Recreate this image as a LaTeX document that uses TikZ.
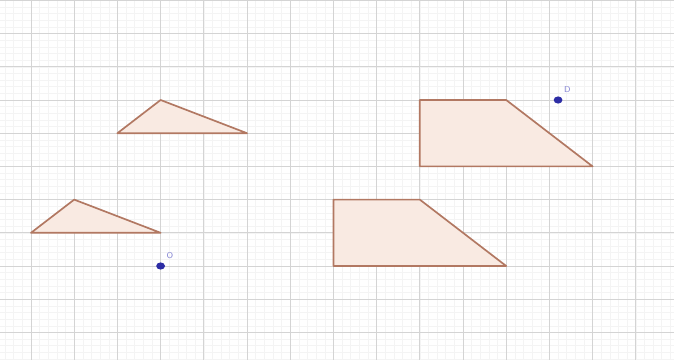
\documentclass[tikz,border=0pt]{standalone}
\usepackage{tikz}
\usetikzlibrary{positioning,shapes.geometric}
\definecolor{gridmajor}{RGB}{212,212,212}
\definecolor{gridminor}{RGB}{244,244,244}
\definecolor{polyedge}{RGB}{178,120,98}
\definecolor{polyfill}{RGB}{249,234,226}
\definecolor{ptblue}{RGB}{45,45,165}
\definecolor{lblblue}{RGB}{130,130,210}

\begin{document}
\begin{tikzpicture}[
    x=1.08cm, y=0.83cm,
    minorline/.style={draw=gridminor, line width=0.35pt},
    majorline/.style={draw=gridmajor, line width=0.6pt},
    poly/.style={draw=polyedge, fill=polyfill, line width=1.2pt, line join=round},
    pt/.style={ellipse, fill=ptblue, inner sep=0pt, minimum width=0.22cm, minimum height=0.18cm},
    ptlabel/.style={text=lblblue, font=\fontsize{6}{6}\selectfont\sffamily, inner sep=0pt}
]
    \useasboundingbox (-0.7176,-0.831) rectangle (14.884,10.012);
    \fill[white] (-0.7176,-0.831) rectangle (14.884,10.012);

    % grid
    \foreach \i in {-3,...,74}
        \draw[minorline] (\i/5,-0.831) -- (\i/5,10.012);
    \foreach \j in {-4,...,50}
        \draw[minorline] (-0.7176,\j/5) -- (14.884,\j/5);
    \foreach \i in {0,...,14}
        \draw[majorline] (\i,-0.831) -- (\i,10.012);
    \foreach \j in {0,...,10}
        \draw[majorline] (-0.7176,\j) -- (14.884,\j);

    % triangles
    \draw[poly] (2,6) -- (3,7) -- (5,6) -- cycle;
    \draw[poly] (0,3) -- (1,4) -- (3,3) -- cycle;

    % trapezoids
    \draw[poly] (9,5) -- (9,7) -- (11,7) -- (13,5) -- cycle;
    \draw[poly] (7,2) -- (7,4) -- (9,4) -- (11,2) -- cycle;

    % points
    \node[pt] (ptO) at (3,2) {};
    \node[pt] (ptD) at (12.2,7) {};
    \node[ptlabel, above right=0.1cm and 0.06cm of ptO] (lblO) {O};
    \node[ptlabel, above right=0.1cm and 0.06cm of ptD] (lblD) {D};
\end{tikzpicture}
\end{document}
